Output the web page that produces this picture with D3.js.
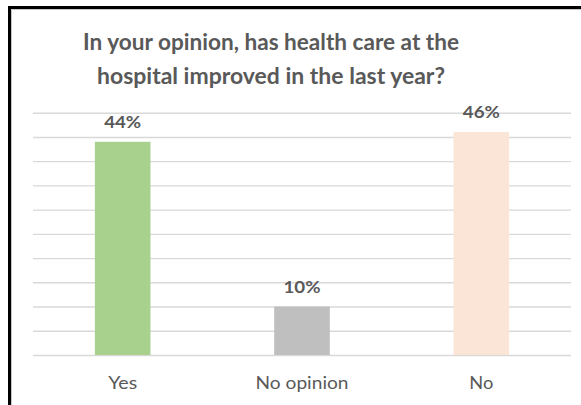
<!DOCTYPE html>
<html>
<head>
<meta charset="utf-8">
<script src="https://cdn.jsdelivr.net/npm/d3@7"></script>
<style>
  html, body { margin: 0; padding: 0; background: #fff; }
  svg { display: block; }
</style>
</head>
<body>
<svg id="chart" width="581" height="405"></svg>
<script>
// Survey answers and their shares
const categories = ["Yes", "No opinion", "No"];
const shares = [0.44, 0.10, 0.46];
const barColors = ["#A9D18E", "#BFBFBF", "#FBE5D6"];
const titleLines = ["In your opinion, has health care at the", "hospital improved in the last year?"];
const gridTicks = d3.range(0, 0.5001, 0.05);

const svg = d3.select("#chart");
const font = "Lato, 'Open Sans', sans-serif";
const textColor = "#595959";

const plot = { left: 33, right: 571, top: 112.7, bottom: 355 };

const x = d3.scaleBand()
  .domain(categories)
  .range([plot.left, plot.right])
  .paddingInner(0.69)
  .paddingOuter(0.345);

const y = d3.scaleLinear()
  .domain([0, 0.5])
  .range([plot.bottom, plot.top]);

// Frame edges (top and left)
svg.append("path")
  .attr("d", "M9.5,405 V7.5 H581")
  .attr("fill", "none")
  .attr("stroke", "#000")
  .attr("stroke-width", 3);
svg.append("path")
  .attr("d", "M11.5,405 V9.5 H581")
  .attr("fill", "none")
  .attr("stroke", "#c8c8c8")
  .attr("stroke-width", 1);

// Title, condensed to the narrow set width of the heading face
const titleWidths = [376, 348];
const titleBaselines = [50, 83.5];
titleLines.forEach((line, i) => {
  svg.append("text")
    .attr("x", 271)
    .attr("y", titleBaselines[i])
    .attr("text-anchor", "middle")
    .attr("font-family", font)
    .attr("font-weight", 700)
    .attr("font-size", 23.5)
    .attr("fill", textColor)
    .attr("textLength", titleWidths[i])
    .attr("lengthAdjust", "spacingAndGlyphs")
    .text(line);
});

// Horizontal gridlines
const yAxis = d3.axisLeft(y)
  .tickValues(gridTicks)
  .tickSize(-(plot.right - plot.left))
  .tickFormat("");
const yg = svg.append("g")
  .attr("transform", `translate(${plot.left},0)`)
  .call(yAxis);
yg.select(".domain").remove();
yg.selectAll(".tick line")
  .attr("stroke", "#d9d9d9")
  .attr("stroke-width", 1.4);

// Bars
svg.append("g")
  .selectAll("rect")
  .data(categories)
  .join("rect")
  .attr("x", d => x(d))
  .attr("width", x.bandwidth())
  .attr("y", (d, i) => y(shares[i]))
  .attr("height", (d, i) => y(0) - y(shares[i]))
  .attr("fill", (d, i) => barColors[i]);

// Value labels
svg.append("g")
  .selectAll("text")
  .data(categories)
  .join("text")
  .attr("x", d => x(d) + x.bandwidth() / 2)
  .attr("y", (d, i) => y(shares[i]) - 14)
  .attr("text-anchor", "middle")
  .attr("font-family", font)
  .attr("font-weight", 700)
  .attr("font-size", 17)
  .attr("fill", textColor)
  .attr("textLength", 37)
  .attr("lengthAdjust", "spacingAndGlyphs")
  .text((d, i) => d3.format(".0%")(shares[i]));

// Category axis labels
const labelWidths = [29, 93, 24];
const xAxis = d3.axisBottom(x).tickSize(0).tickPadding(0);
const xg = svg.append("g")
  .attr("transform", `translate(0,${plot.bottom})`)
  .call(xAxis);
xg.select(".domain").remove();
xg.selectAll(".tick text")
  .attr("dy", null)
  .attr("y", 33.5)
  .attr("font-family", font)
  .attr("font-size", 17.5)
  .attr("fill", textColor)
  .attr("textLength", (d, i) => labelWidths[i])
  .attr("lengthAdjust", "spacingAndGlyphs");
</script>
</body>
</html>
